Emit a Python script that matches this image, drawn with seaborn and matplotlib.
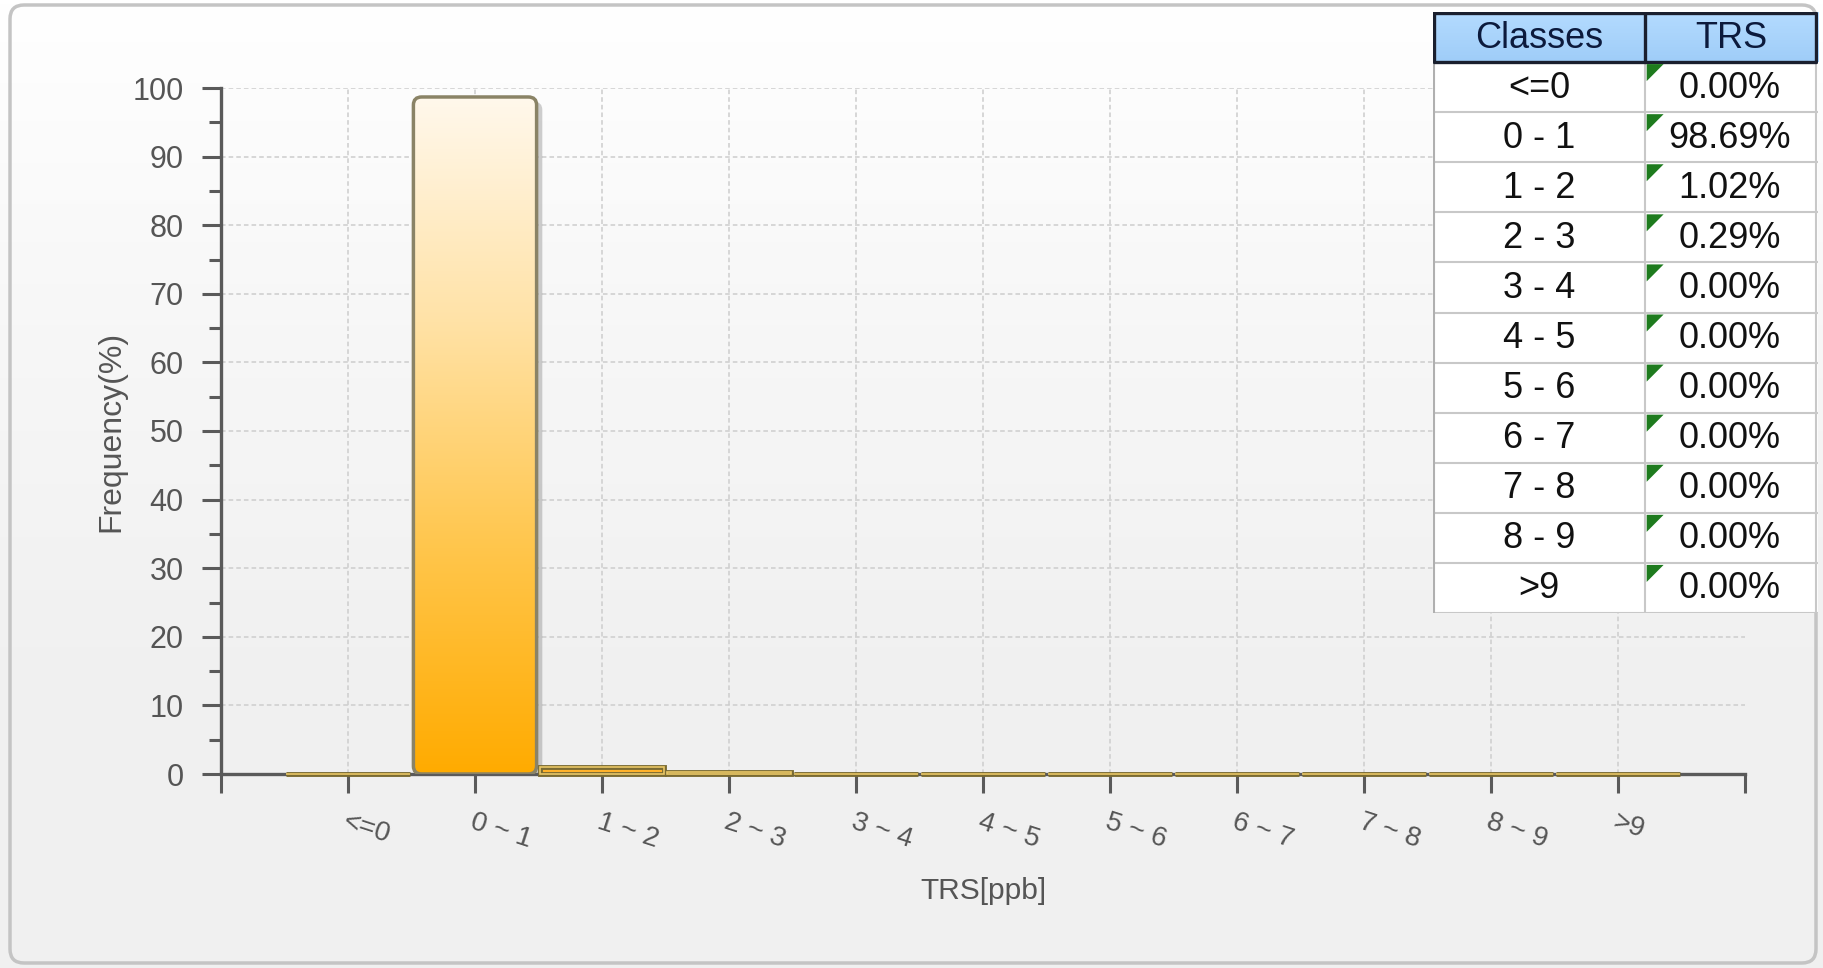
import numpy as np
import pandas as pd
import matplotlib
matplotlib.use('Agg')
import matplotlib.pyplot as plt
import seaborn as sns
from matplotlib.patches import FancyBboxPatch, Rectangle, Polygon
from matplotlib.colors import LinearSegmentedColormap

# data
classes = ['<=0', '0 ~ 1', '1 ~ 2', '2 ~ 3', '3 ~ 4', '4 ~ 5', '5 ~ 6', '6 ~ 7', '7 ~ 8', '8 ~ 9', '>9']
table_classes = ['<=0', '0 - 1', '1 - 2', '2 - 3', '3 - 4', '4 - 5', '5 - 6', '6 - 7', '7 - 8', '8 - 9', '>9']
frequency = [0.00, 98.69, 1.02, 0.29, 0.00, 0.00, 0.00, 0.00, 0.00, 0.00, 0.00]
y_ticks = list(range(0, 101, 10))
table_header = ['Classes', 'TRS']

W, H = 1823, 968
sns.set_theme(style='white')
plt.rcParams['font.family'] = ['Liberation Sans', 'DejaVu Sans']
txt = '#555555'
axis_col = '#5a5a5a'

fig = plt.figure(figsize=(W / 100, H / 100), dpi=100)

# panel background: soft vertical gradient + rounded border
bg = fig.add_axes([0, 0, 1, 1], zorder=-10)
grad = np.linspace(0, 1, 256).reshape(-1, 1)
bg_cmap = LinearSegmentedColormap.from_list('bg', ['#ffffff', '#f7f7f7', '#f1f1f1', '#f0f0f0'])
bg.imshow(grad, extent=[0, W, H, 0], aspect='auto', cmap=bg_cmap)
bg.add_patch(FancyBboxPatch((10, 5), 1806, 958, boxstyle='round,pad=0,rounding_size=14',
                            fc='none', ec='#c4c4c4', lw=2.5))
bg.set_xlim(0, W)
bg.set_ylim(H, 0)
bg.axis('off')

# main chart
ax = fig.add_axes([221 / W, 1 - 774 / H, 1524 / W, 686 / H])
ax.set_facecolor('none')
df = pd.DataFrame({'Classes': classes, 'Frequency': frequency})
sns.barplot(data=df, x='Classes', y='Frequency', ax=ax, width=0.97, color='#ffc040', saturation=1)

bar_cmap = LinearSegmentedColormap.from_list('bar', ['#ffab00', '#ffc64c', '#ffe2a6', '#fff8ec'])
for p in list(ax.patches):
    x0, w, h = p.get_x(), p.get_width(), p.get_height()
    p.remove()
    if h > 5:
        style = 'round,pad=0,rounding_size=0.065'
        ax.add_patch(FancyBboxPatch((x0 + 0.045, 0), w, h - 0.7, boxstyle=style, mutation_aspect=18,
                                    fc='#777777', ec='none', alpha=0.35, zorder=2))
        body = FancyBboxPatch((x0, 0), w, h, boxstyle=style, mutation_aspect=18,
                              fc='none', ec='#8a8366', lw=2.5, zorder=4)
        ax.add_patch(body)
        img = ax.imshow(grad, extent=[x0, x0 + w, 0, h], origin='lower', aspect='auto',
                        cmap=bar_cmap, zorder=3)
        img.set_clip_path(body)
    else:
        # flat bars sit on the axis as a thin golden band
        ax.add_patch(Rectangle((x0, 0), w, h, fc='#ffb22a', ec='#7a6b32', lw=3.5,
                               zorder=4, clip_on=False))
        ax.add_patch(Rectangle((x0, 0), w, h, fc='none', ec='#e9c766', lw=1.2,
                               zorder=5, clip_on=False))

ax.set_xlim(-1, 11)
ax.set_ylim(0, 100)

for s in ['top', 'right']:
    ax.spines[s].set_visible(False)
for s in ['left', 'bottom']:
    ax.spines[s].set_color(axis_col)
    ax.spines[s].set_linewidth(2.4)

ax.grid(True, which='major', color='#cdcdcd', linestyle=(0, (3, 2)), lw=1.1)
ax.set_axisbelow(True)

ax.set_yticks(y_ticks)
ax.set_yticks(range(5, 100, 10), minor=True)
ax.tick_params(axis='y', which='major', direction='out', length=14, width=2.2, color=axis_col,
               labelsize=22, labelcolor=txt, pad=13, left=True)
ax.tick_params(axis='y', which='minor', direction='out', length=9, width=2.2, color=axis_col, left=True)

ax.set_xticks(range(len(classes)))
ax.set_xticklabels(classes, rotation=-18, ha='left', va='top', rotation_mode='anchor',
                   fontsize=20, color=txt)
ax.set_xticks([-1, 11], minor=True)
ax.tick_params(axis='x', which='both', direction='out', length=14, width=2.2, color=axis_col,
               pad=11, bottom=True)

ax.set_ylabel('Frequency(%)', fontsize=23, color=txt)
ax.yaxis.set_label_coords(-0.062, 0.5)
ax.set_xlabel('TRS[ppb]', fontsize=21.5, color=txt)
ax.xaxis.set_label_coords(0.5, -0.150)

# summary table, top right
tax = fig.add_axes([1433 / W, 1 - 613 / H, 385 / W, 601 / H], zorder=10)
split = 0.551
nrow = len(table_classes)

tax.add_patch(Rectangle((0, 1), 1, nrow, fc='white', ec='none'))
hdr_cmap = LinearSegmentedColormap.from_list('hdr', ['#b4dbff', '#9fcdf8'])
tax.imshow(grad, extent=[0, 1, 1, 0], aspect='auto', cmap=hdr_cmap, zorder=1)
tax.set_xlim(0, 1)
tax.set_ylim(12, 0)
tax.axis('off')

for i in range(2, nrow + 2):
    tax.plot([0, 1], [i, i], color='#c8c8c8', lw=1.5, zorder=2)
tax.plot([split, split], [1, nrow + 1], color='#c8c8c8', lw=1.5, zorder=2)
tax.plot([0.002, 0.002], [1, nrow + 1], color='#b0b0b0', lw=1.5, zorder=2)
tax.plot([0.995, 0.995], [1, nrow + 1], color='#c8c8c8', lw=1.5, zorder=2)
# header borders
tax.plot([0.002, 0.995, 0.995, 0.002, 0.002], [0.02, 0.02, 1, 1, 0.02], color='#1a1f2e', lw=2.4, zorder=3)
tax.plot([split, split], [0.02, 1], color='#1a1f2e', lw=2.4, zorder=3)

tax.text(split / 2, 0.52, table_header[0], ha='center', va='center', fontsize=26, color='#0c1a3c', zorder=4)
tax.text((split + 1) / 2, 0.52, table_header[1], ha='center', va='center', fontsize=26, color='#0c1a3c', zorder=4)

for i, (c, v) in enumerate(zip(table_classes, frequency)):
    r = i + 1
    tax.text(split / 2, r + 0.52, c, ha='center', va='center', fontsize=26, color='#111111', zorder=4)
    tax.text((split + 1) / 2 - 0.005, r + 0.52, f'{v:.2f}%', ha='center', va='center',
             fontsize=26, color='#111111', zorder=4)
    tax.add_patch(Polygon([(split + 0.004, r + 0.04), (split + 0.048, r + 0.04), (split + 0.004, r + 0.38)],
                          closed=True, fc='#1e7b1e', ec='none', zorder=5))

fig.savefig('out.png', dpi=100)
